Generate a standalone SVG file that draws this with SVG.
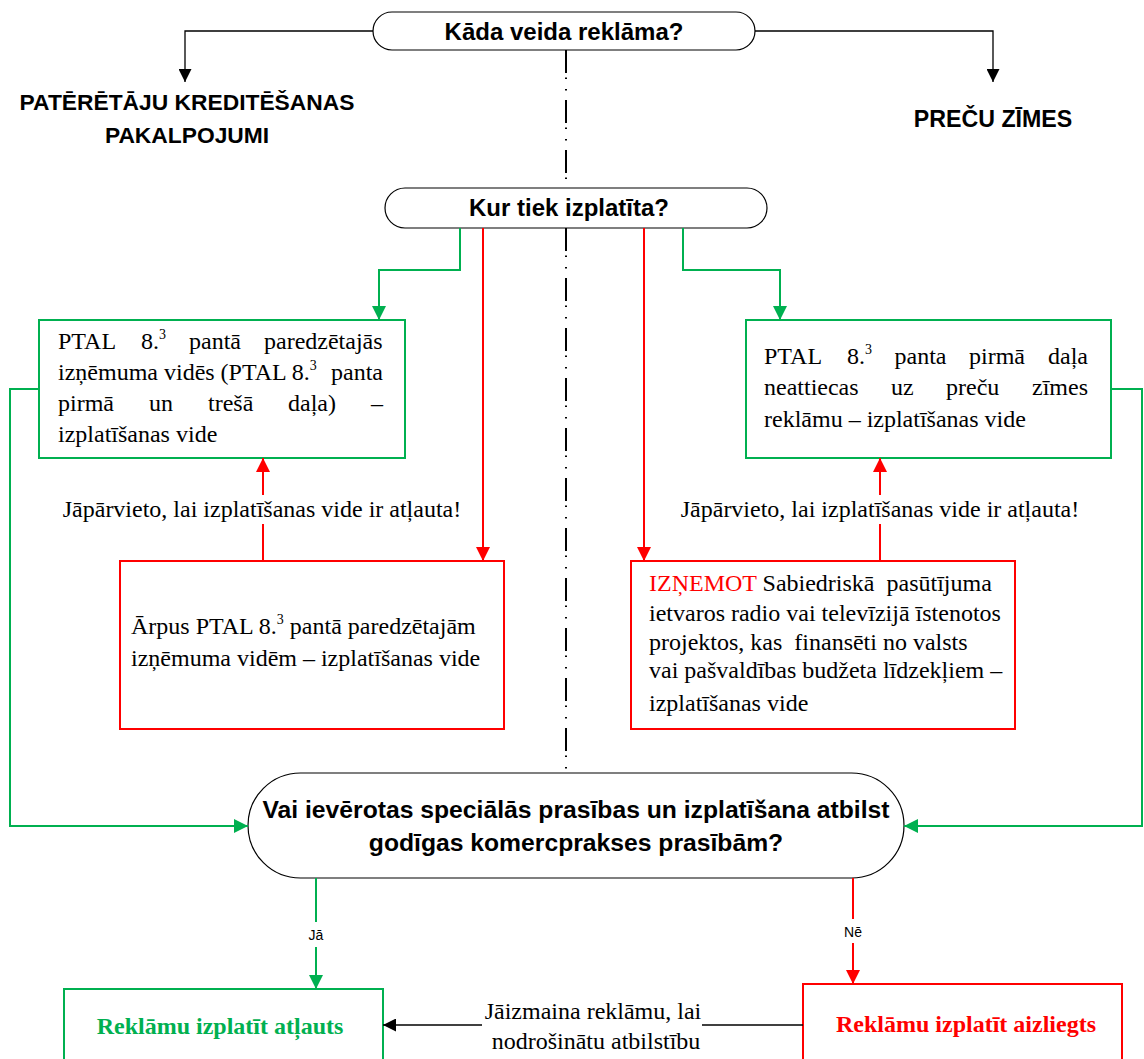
<svg xmlns="http://www.w3.org/2000/svg" width="1144" height="1059" viewBox="0 0 1144 1059">
<style>
.t{font-family:"Liberation Serif","Times New Roman",serif;font-size:24px;fill:#000}
.h{font-family:"Liberation Sans",Arial,sans-serif;font-weight:bold;font-size:24px;fill:#000}
.lb{font-family:"Liberation Sans",Arial,sans-serif;font-size:14px;fill:#000}
.g{fill:none;stroke:#00B050;stroke-width:2}
.r{fill:none;stroke:#FF0000;stroke-width:2}
.k{fill:none;stroke:#000;stroke-width:1.3}
.dd{fill:none;stroke:#000;stroke-width:2;stroke-dasharray:23 4.5 1.5 10 1.5 9.5}
.bg{fill:#fff;stroke:#00B050;stroke-width:2}
.br{fill:#fff;stroke:#FF0000;stroke-width:2}
.term{fill:#fff;stroke:#000;stroke-width:1.2}
.sup{font-size:14px}
</style>
<defs>
<marker id="ag" viewBox="0 0 10 10" refX="10" refY="5" markerWidth="14" markerHeight="14" markerUnits="userSpaceOnUse" orient="auto"><path d="M0,0 L10,5 L0,10 z" fill="#00B050"/></marker>
<marker id="ar" viewBox="0 0 10 10" refX="10" refY="5" markerWidth="14" markerHeight="14" markerUnits="userSpaceOnUse" orient="auto"><path d="M0,0 L10,5 L0,10 z" fill="#FF0000"/></marker>
<marker id="ak" viewBox="0 0 10 10" refX="10" refY="5" markerWidth="13" markerHeight="13" markerUnits="userSpaceOnUse" orient="auto"><path d="M0,0 L10,5 L0,10 z" fill="#000"/></marker>
</defs>
<rect width="1144" height="1059" fill="#fff"/>

<g id="q-type">
<rect class="term" x="373" y="12" width="382" height="38" rx="19"/>
<text class="h" x="564" y="40" text-anchor="middle">Kāda veida reklāma?</text>
</g>
<g id="consumer-credit">
<text class="h" x="187" y="110" text-anchor="middle" style="font-size:22.8px">PATĒRĒTĀJU KREDITĒŠANAS</text>
<text class="h" x="187" y="143" text-anchor="middle" style="font-size:22.8px">PAKALPOJUMI</text>
</g>
<g id="trademarks">
<text class="h" x="993" y="127" text-anchor="middle" style="font-size:23.2px">PREČU ZĪMES</text>
</g>
<g id="q-where">
<rect class="term" x="385" y="188" width="382" height="40" rx="20"/>
<text class="h" x="569" y="216" text-anchor="middle">Kur tiek izplatīta?</text>
</g>

<g id="left-allowed">
<rect class="bg" x="39" y="320" width="366" height="138"/>
<text class="t"><tspan x="58" y="349">PTAL</tspan><tspan x="141" y="349">8.</tspan><tspan class="sup" dy="-10">3</tspan><tspan x="189" y="349">pantā</tspan><tspan x="264" y="349">paredzētajās</tspan></text>
<text class="t"><tspan x="58" y="380">izņēmuma vidēs (PTAL 8.</tspan><tspan class="sup" dy="-10">3</tspan><tspan x="331" y="380">panta</tspan></text>
<text class="t"><tspan x="58" y="411">pirmā</tspan><tspan x="149" y="411">un</tspan><tspan x="208" y="411">trešā</tspan><tspan x="288" y="411">daļa)</tspan><tspan x="371" y="411">–</tspan></text>
<text class="t" x="58" y="442">izplatīšanas vide</text>
</g>

<g id="right-allowed">
<rect class="bg" x="746" y="320" width="365" height="138"/>
<text class="t"><tspan x="764" y="364">PTAL</tspan><tspan x="847" y="364">8.</tspan><tspan class="sup" dy="-10">3</tspan><tspan x="894.5" y="364">panta</tspan><tspan x="969" y="364">pirmā</tspan><tspan x="1048" y="364">daļa</tspan></text>
<text class="t"><tspan x="764" y="395">neattiecas</tspan><tspan x="891" y="395">uz</tspan><tspan x="946" y="395">preču</tspan><tspan x="1032" y="395">zīmes</tspan></text>
<text class="t" x="764" y="427">reklāmu – izplatīšanas vide</text>
</g>

<g id="left-forbidden">
<rect class="br" x="120" y="561" width="384" height="168"/>
<text class="t"><tspan x="131" y="634">Ārpus PTAL 8.</tspan><tspan class="sup" dy="-10">3</tspan><tspan dy="10"> pantā paredzētajām</tspan></text>
<text class="t" x="131" y="666">izņēmuma vidēm – izplatīšanas vide</text>
</g>

<g id="right-forbidden">
<rect class="br" x="631" y="561" width="384" height="168"/>
<text class="t" style="white-space:pre" x="649" y="591"><tspan fill="#FF0000">IZŅEMOT</tspan> Sabiedriskā  pasūtījuma</text>
<text class="t" x="649" y="621">ietvaros radio vai televīzijā īstenotos</text>
<text class="t" style="white-space:pre" x="649" y="650">projektos, kas  finansēti no valsts</text>
<text class="t" x="649" y="678">vai pašvaldības budžeta līdzekļiem –</text>
<text class="t" x="649" y="711">izplatīšanas vide</text>
</g>

<g id="q-compliance">
<rect class="term" x="248" y="773" width="656" height="105" rx="52.5"/>
<text class="h" x="576" y="818" text-anchor="middle" style="font-size:24.7px">Vai ievērotas speciālās prasības un izplatīšana atbilst</text>
<text class="h" x="576" y="851" text-anchor="middle" style="font-size:24.7px">godīgas komercprakses prasībām?</text>
</g>

<g id="allowed">
<rect class="bg" x="64" y="989" width="319" height="90"/>
<text class="t" x="220" y="1034" text-anchor="middle" style="font-weight:bold;fill:#00B050">Reklāmu izplatīt atļauts</text>
</g>
<g id="forbidden">
<rect class="br" x="803" y="984" width="319" height="95"/>
<text class="t" x="966" y="1032" text-anchor="middle" style="font-weight:bold;fill:#FF0000">Reklāmu izplatīt aizliegts</text>
</g>

<g id="connectors">
<path class="k" d="M373,31 H185 V82" marker-end="url(#ak)"/>
<path class="k" d="M755,31 H993 V82" marker-end="url(#ak)"/>
<path class="dd" d="M566,50 V188"/>
<path class="dd" d="M566,228 V773"/>
<path class="g" d="M460,228 V270 H379 V320" marker-end="url(#ag)"/>
<path class="g" d="M683,228 V270 H780 V320" marker-end="url(#ag)"/>
<path class="r" d="M483,228 V561" marker-end="url(#ar)"/>
<path class="r" d="M644,228 V561" marker-end="url(#ar)"/>
<path class="r" d="M263,561 V524"/>
<path class="r" d="M263,495 V458" marker-end="url(#ar)"/>
<path class="r" d="M880,561 V524"/>
<path class="r" d="M880,495 V458" marker-end="url(#ar)"/>
<text class="t" x="262" y="517" text-anchor="middle">Jāpārvieto, lai izplatīšanas vide ir atļauta!</text>
<text class="t" x="880" y="517" text-anchor="middle">Jāpārvieto, lai izplatīšanas vide ir atļauta!</text>
<path class="g" d="M39,389 H10 V826 H248" marker-end="url(#ag)"/>
<path class="g" d="M1111,389 H1142 V826 H904" marker-end="url(#ag)"/>
<path class="g" d="M316,878 V922"/>
<path class="g" d="M316,947 V989" marker-end="url(#ag)"/>
<text class="lb" x="316" y="940" text-anchor="middle">Jā</text>
<path class="r" d="M853,878 V919"/>
<path class="r" d="M853,943 V984" marker-end="url(#ar)"/>
<text class="lb" x="853" y="937" text-anchor="middle">Nē</text>
<path class="k" d="M803,1025 H702"/>
<path class="k" d="M482,1025 H383" marker-end="url(#ak)"/>
<text class="t" x="593" y="1019" text-anchor="middle">Jāizmaina reklāmu, lai</text>
<text class="t" x="596" y="1049" text-anchor="middle">nodrošinātu atbilstību</text>
</g>
</svg>
